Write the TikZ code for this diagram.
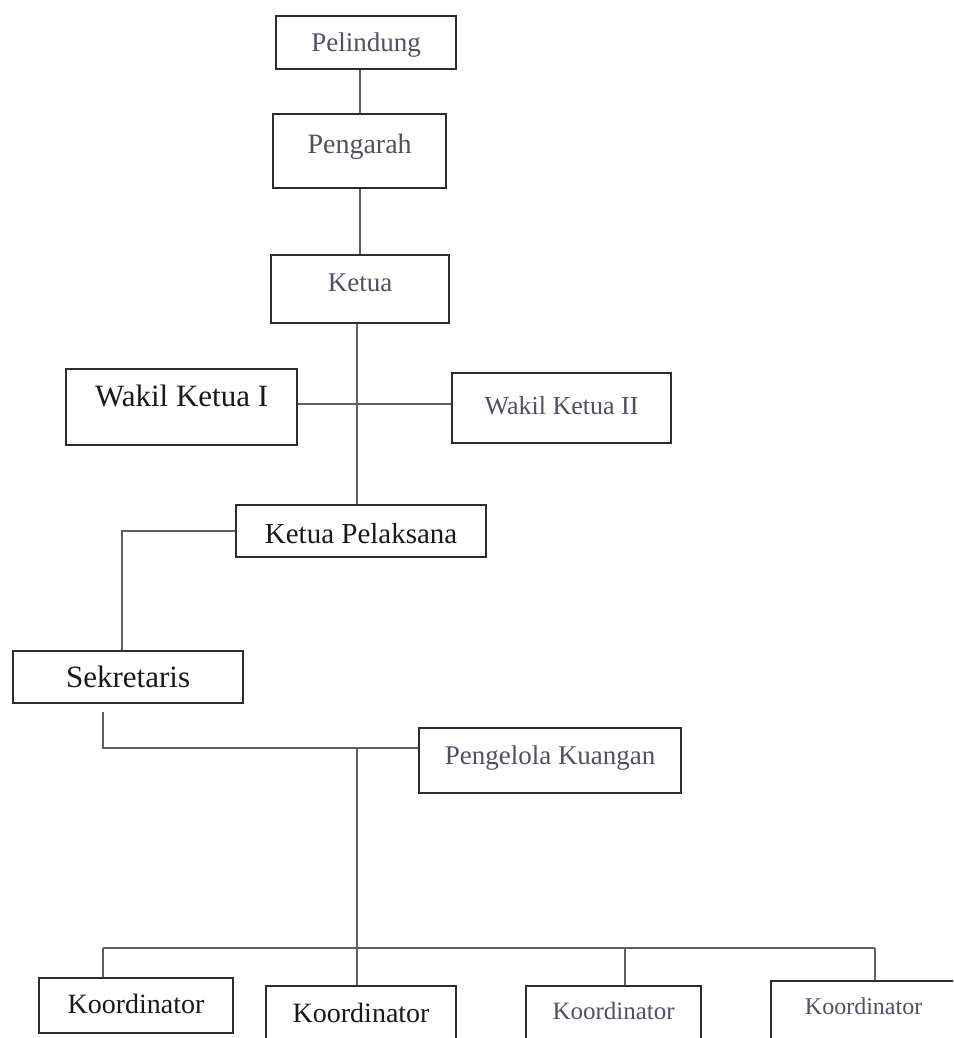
\documentclass[tikz,border=0pt]{standalone}
\usepackage{fontspec}
\setmainfont{Liberation Serif}
\definecolor{inkdark}{RGB}{25,25,25}
\definecolor{inklight}{RGB}{80,80,100}
\definecolor{framec}{RGB}{45,45,45}
\definecolor{linec}{RGB}{95,95,95}
\tikzset{
  orgbox/.style={draw=framec, line width=2.2pt, fill=white, rectangle, anchor=north west,
    inner xsep=0pt, inner ysep=0pt},
  dark/.style={text=inkdark},
  light/.style={text=inklight},
  conn/.style={draw=linec, line width=1.3pt}
}
\begin{document}
\begin{tikzpicture}[x=1pt,y=-1pt]
\useasboundingbox (0,0) rectangle (953,1038);
\clip (0,0) rectangle (953,1038);
\coordinate (top) at (360,0);
\coordinate (sekb) at (103,712);
\coordinate (mid) at (357,748);
\coordinate (barL) at (103,948);
\coordinate (barM) at (625,948);
\coordinate (barR) at (875,948);
% boxes
\node[orgbox, light, minimum width=180pt, text height=35pt, text depth=18pt, font=\fontsize{27}{30}\selectfont] (pel) at (275,15) {Pelindung};
\node[orgbox, light, minimum width=173pt, text height=39pt, text depth=35pt, font=\fontsize{28}{30}\selectfont] (pen) at (272,113) {Pengarah};
\node[orgbox, light, minimum width=178pt, text height=36pt, text depth=32pt, font=\fontsize{27}{30}\selectfont] (ket) at (270,254) {Ketua};
\node[orgbox, dark, minimum width=231pt, text height=37pt, text depth=39pt, font=\fontsize{31}{32}\selectfont] (wk1) at (65,368) {Wakil Ketua I};
\node[orgbox, light, minimum width=219pt, text height=41pt, text depth=29pt, font=\fontsize{26}{30}\selectfont] (wk2) at (451,372) {Wakil Ketua II};
\node[orgbox, dark, minimum width=250pt, text height=38pt, text depth=14pt, font=\fontsize{29}{32}\selectfont] (kp) at (235,504) {Ketua Pelaksana};
\node[orgbox, dark, minimum width=230pt, text height=36pt, text depth=16pt, font=\fontsize{31}{34}\selectfont] (sek) at (12,650) {Sekretaris};
\node[orgbox, light, minimum width=262pt, text height=36pt, text depth=29pt, font=\fontsize{27}{30}\selectfont] (pk) at (418,727) {Pengelola Kuangan};
\node[orgbox, dark, minimum width=194pt, text height=35pt, text depth=20pt, font=\fontsize{28}{30}\selectfont] (k1) at (38,977) {Koordinator};
\node[orgbox, dark, minimum width=190pt, text height=36pt, text depth=30pt, font=\fontsize{28}{30}\selectfont] (k2) at (265,985) {Koordinator};
\node[orgbox, light, minimum width=175pt, text height=33pt, text depth=30pt, font=\fontsize{25}{28}\selectfont] (k3) at (525,985) {Koordinator};
\node[orgbox, light, minimum width=185pt, text height=33pt, text depth=35pt, font=\fontsize{24}{28}\selectfont] (k4) at (770,980) {Koordinator};
% connectors
\draw[conn] (pel.south -| top) -- (pen.north -| top);
\draw[conn] (pen.south -| top) -- (ket.north -| top);
\draw[conn] (ket.south -| mid) -- (kp.north -| mid);
\draw[conn] (wk1.east |- 0,404) -- (wk2.west |- 0,404);
\draw[conn] (kp.west) -| (sek.north -| 122,0);
\draw[conn] (sekb) |- (pk.west |- mid);
\draw[conn] (mid) -- (mid |- k2.north);
\draw[conn] (barL) -- (barR);
\draw[conn] (barL) -- (barL |- k1.north);
\draw[conn] (barM) -- (barM |- k3.north);
\draw[conn] (barR) -- (barR |- k4.north);
\end{tikzpicture}
\end{document}
